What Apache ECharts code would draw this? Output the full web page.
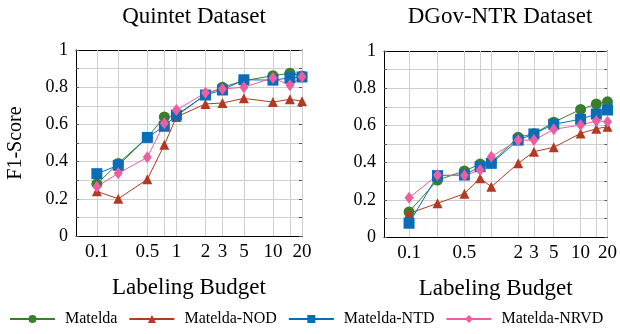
<!doctype html>
<html lang="en">
<head>
  <meta charset="UTF-8">
  <title>F1-Score vs Labeling Budget</title>
  <style>
    html, body { margin: 0; padding: 0; background: #fff; }
    #chart { width: 620px; height: 334px; }
  </style>
  <script src="https://cdn.jsdelivr.net/npm/echarts@6/dist/echarts.min.js"></script>
</head>
<body>
  <div id="chart"></div>
  <script>
    // budgets where the marks sit (the first one is labelled "0.1")
    var quintetBudget = [0.15, 0.25, 0.5, 0.75, 1, 2, 3, 5, 10, 15, 20];
    var dgovBudget = [0.12, 0.25, 0.5, 0.75, 1, 2, 3, 5, 10, 15, 20];

    var quintetTickAt = [0.15, 0.5, 1, 2, 3, 5, 10, 20];
    var quintetTickText = ['0.1', '0.5', '1', '2', '3', '5', '10', '20'];
    var dgovTickAt = [0.12, 0.5, 2, 3, 5, 10, 20];
    var dgovTickText = ['0.1', '0.5', '2', '3', '5', '10', '20'];

    var seriesNames = ['Matelda', 'Matelda-NOD', 'Matelda-NTD', 'Matelda-NRVD'];

    // Quintet Dataset
    var quintetMatelda = [0.28, 0.39, 0.53, 0.64, 0.645, 0.76, 0.80, 0.835, 0.862, 0.875, 0.86];
    var quintetNOD = [0.24, 0.20, 0.305, 0.49, 0.64, 0.71, 0.715, 0.74, 0.72, 0.735, 0.725];
    var quintetNTD = [0.335, 0.38, 0.53, 0.59, 0.65, 0.758, 0.785, 0.84, 0.838, 0.85, 0.855];
    var quintetNRVD = [0.265, 0.337, 0.423, 0.606, 0.677, 0.77, 0.79, 0.80, 0.85, 0.81, 0.856];

    // DGov-NTR Dataset
    var dgovMatelda = [0.135, 0.306, 0.355, 0.392, 0.40, 0.536, 0.555, 0.617, 0.686, 0.715, 0.727];
    var dgovNOD = [0.127, 0.181, 0.233, 0.316, 0.27, 0.396, 0.459, 0.482, 0.557, 0.582, 0.593];
    var dgovNTD = [0.074, 0.33, 0.333, 0.378, 0.396, 0.521, 0.554, 0.606, 0.633, 0.661, 0.683];
    var dgovNRVD = [0.211, 0.333, 0.33, 0.36, 0.432, 0.52, 0.521, 0.579, 0.602, 0.624, 0.62];

    var colors = ['#3a7d2e', '#b23a24', '#0a6db8', '#ee5da0'];
    var symbols = ['circle', 'triangle', 'rect', 'diamond'];
    var symbolSizes = [11, 10, 11, [9, 12]];
    var font = '"Liberation Serif", "DejaVu Serif", serif';
    var plotH = 186;

    var log10 = function (v) { return Math.log(v) / Math.LN10; };

    function pairs(budget, values) {
      return budget.map(function (b, i) { return [log10(b), values[i]]; });
    }

    function xAxes(gridIndex, minBudget, budget, tickAt, tickText) {
      var min = log10(minBudget), max = log10(20);
      var tickPos = budget.map(log10);
      var labelPos = tickAt.map(log10);
      var common = {
        type: 'value', gridIndex: gridIndex, min: min, max: max,
        axisLine: { onZero: false, lineStyle: { color: '#000', width: 1 } },
        splitLine: { show: false }
      };
      return [
        Object.assign({}, common, {
          position: 'bottom',
          name: 'Labeling Budget', nameLocation: 'middle', nameGap: 40,
          nameTextStyle: { fontFamily: font, fontSize: 23, color: '#000' },
          axisTick: { inside: true, length: 3, customValues: tickPos, lineStyle: { color: '#555' } },
          axisLabel: {
            customValues: labelPos, margin: 7, fontFamily: font, fontSize: 19, color: '#000',
            formatter: function (v) {
              for (var i = 0; i < labelPos.length; i++) {
                if (Math.abs(labelPos[i] - v) < 1e-6) return tickText[i];
              }
              return '';
            }
          }
        }),
        // top axis: its inside ticks span the plot and act as the vertical grid
        Object.assign({}, common, {
          position: 'top',
          axisTick: { inside: true, length: plotH, customValues: tickPos, lineStyle: { color: '#cfcfcf', width: 1 } },
          axisLabel: { show: false }
        })
      ];
    }

    function yAxes(gridIndex, withName) {
      var common = {
        type: 'value', gridIndex: gridIndex, min: 0, max: 1, interval: 0.1,
        axisLine: { show: true, onZero: false, lineStyle: { color: '#000', width: 1 } },
        axisTick: { show: true, inside: true, length: 3, lineStyle: { color: '#555' } }
      };
      var left = Object.assign({}, common, {
        position: 'left',
        axisLabel: {
          margin: 8, fontFamily: font, fontSize: 18, color: '#000',
          formatter: function (v) {
            var k = Math.round(v * 10);
            return k % 2 === 0 ? String(k / 10) : '';
          }
        },
        splitLine: { show: true, lineStyle: { color: '#cfcfcf', width: 1 } }
      });
      if (withName) {
        left.name = 'F1-Score';
        left.nameLocation = 'middle';
        left.nameGap = 50;
        left.nameTextStyle = { fontFamily: font, fontSize: 20, color: '#000' };
      }
      var right = Object.assign({}, common, {
        position: 'right', axisLabel: { show: false }, splitLine: { show: false }
      });
      return [left, right];
    }

    function makeSeries(budget, lists, xIdx, yIdx) {
      return lists.map(function (vals, i) {
        return {
          name: seriesNames[i], type: 'line',
          xAxisIndex: xIdx, yAxisIndex: yIdx,
          data: pairs(budget, vals),
          symbol: symbols[i], symbolSize: symbolSizes[i],
          showAllSymbol: true, clip: false,
          lineStyle: { color: colors[i], width: 1 },
          itemStyle: { color: colors[i] },
          z: 3,
          animation: false
        };
      });
    }

    var chart = echarts.init(document.getElementById('chart'), null, { renderer: 'canvas' });

    var option = {
      backgroundColor: '#fff',
      animation: false,
      title: [
        { text: 'Quintet Dataset', left: 189, top: 0, textAlign: 'center',
          textStyle: { fontFamily: font, fontSize: 23, fontWeight: 'normal', color: '#000' } },
        { text: 'DGov-NTR Dataset', left: 495, top: 0, textAlign: 'center',
          textStyle: { fontFamily: font, fontSize: 23, fontWeight: 'normal', color: '#000' } }
      ],
      legend: {
        data: seriesNames, left: 4, top: 306,
        itemWidth: 45, itemHeight: 10, itemGap: 11,
        textStyle: { fontFamily: font, fontSize: 16, color: '#000', padding: [0, 0, 0, 5] }
      },
      grid: [
        { left: 76, width: 226, top: 50, height: plotH },
        { left: 384, width: 228, top: 51, height: plotH }
      ],
      xAxis: xAxes(0, 0.0912, quintetBudget, quintetTickAt, quintetTickText)
        .concat(xAxes(1, 0.0629, dgovBudget, dgovTickAt, dgovTickText)),
      yAxis: yAxes(0, true).concat(yAxes(1, false)),
      series: makeSeries(quintetBudget, [quintetMatelda, quintetNOD, quintetNTD, quintetNRVD], 0, 0)
        .concat(makeSeries(dgovBudget, [dgovMatelda, dgovNOD, dgovNTD, dgovNRVD], 2, 2))
    };

    chart.setOption(option);
  </script>
</body>
</html>
